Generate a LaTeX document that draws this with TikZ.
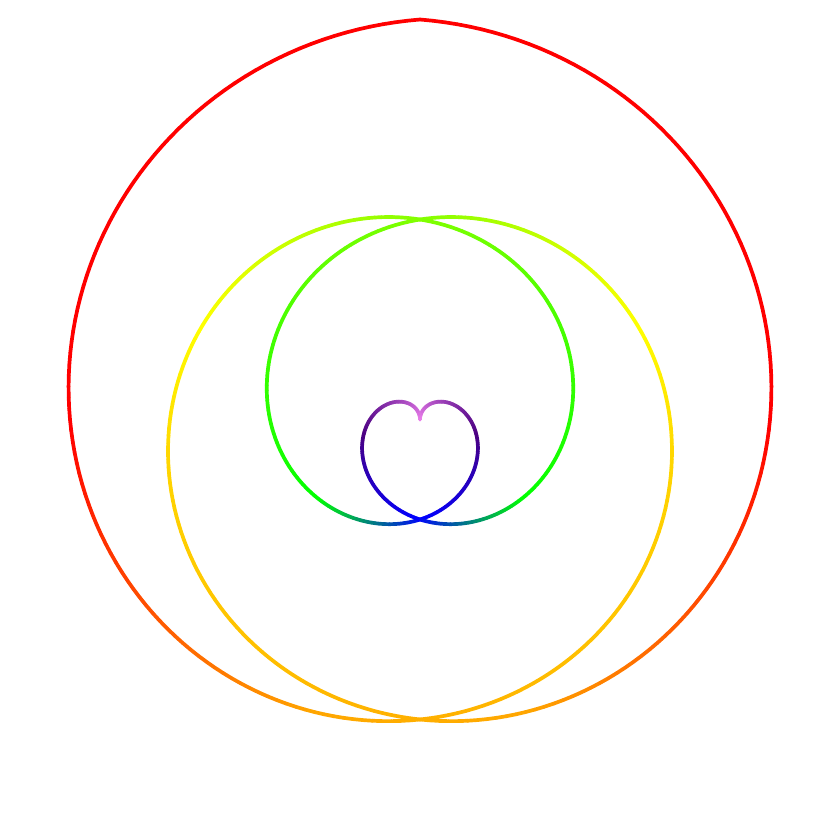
\documentclass[tikz,border=0pt]{standalone}
\usepackage{tikz}

\definecolor{spviolet}{HTML}{EE82EE}
\definecolor{spindigo}{HTML}{4B0082}
\definecolor{spblue}{HTML}{0000FF}
\definecolor{spgreen}{HTML}{00FF00}
\definecolor{spchart}{HTML}{80FF00}
\definecolor{spyellow}{HTML}{FFFF00}
\definecolor{spgold}{HTML}{FFD700}
\definecolor{sporange}{HTML}{FFA500}
\definecolor{spred}{HTML}{FF0000}

\begin{document}
\begin{tikzpicture}
        \tikzstyle{arm} = [line width=0.037cm, line cap=round]
        \useasboundingbox (-4.2,-4.205) rectangle (4.2,4.195);
        % two mirrored Archimedean arms, r = t, angle 180t
        \foreach \s in {1,-1}
        \foreach \ta/\tb/\ca/\cb in {0/0.6/spviolet/spindigo, 0.6/1/spindigo/spblue,
                1/1.3/spblue/spgreen, 1.3/2/spgreen/spchart, 2/2.38/spchart/spyellow,
                2.38/2.55/spyellow/spgold, 2.55/3.12/spgold/sporange,
                3.12/3.5/sporange/spred, 3.5/4/spred/spred}
        {
            \pgfmathtruncatemacro\n{round((\tb-\ta)*100)}
            \foreach \k in {1,...,\n} {
                \pgfmathsetmacro\tu{\ta+(\k-1)/100}
                \pgfmathsetmacro\tv{\ta+\k/100}
                \pgfmathtruncatemacro\p{round(100*\k/\n)}
                \draw[arm, color=\cb!\p!\ca] ({90-\s*180*\tu}:\tu) -- ({90-\s*180*\tv}:\tv);
            }
        }
    \end{tikzpicture}
\end{document}
